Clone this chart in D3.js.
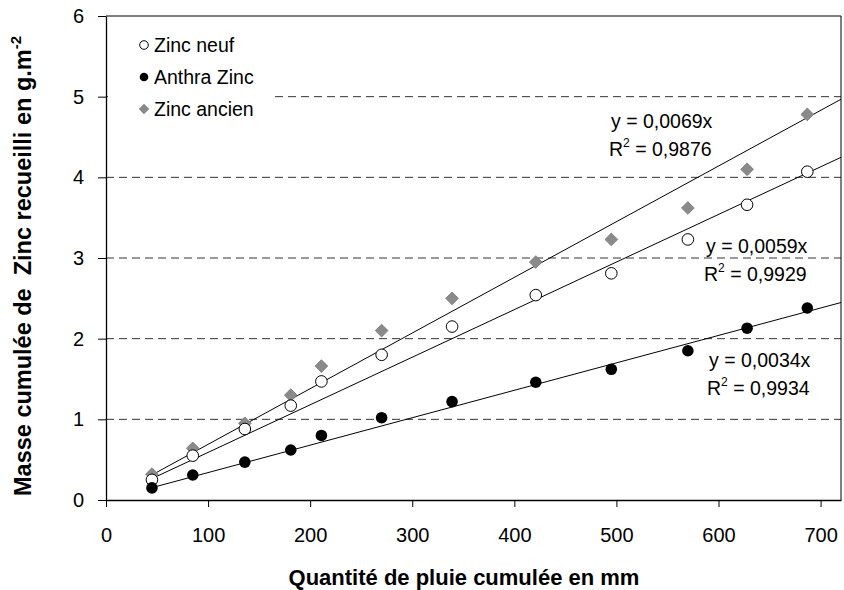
<!DOCTYPE html>
<html><head><meta charset="utf-8">
<script src="https://cdn.jsdelivr.net/npm/d3@7"></script>
<style>
html,body{margin:0;padding:0;background:#fff;}
svg{display:block;}
text{font-family:"Liberation Sans",Arial,sans-serif;}
</style></head>
<body>
<svg id="chart" width="844" height="590"></svg>
<script>
// ---- data ----
const rain = [45, 85, 136, 181, 211, 270, 339, 421, 495, 570, 628, 687];
const zincNeuf = [0.25, 0.55, 0.88, 1.17, 1.47, 1.80, 2.15, 2.54, 2.81, 3.23, 3.66, 4.07];
const anthraZinc = [0.15, 0.31, 0.47, 0.62, 0.80, 1.02, 1.22, 1.46, 1.62, 1.85, 2.13, 2.38];
const zincAncien = [0.32, 0.64, 0.95, 1.30, 1.66, 2.10, 2.50, 2.95, 3.23, 3.62, 4.10, 4.78];
const seriesNames = ["Zinc neuf", "Anthra Zinc", "Zinc ancien"];
const slopes = [0.0059, 0.0034, 0.0069];
const r2s = ["0,9929", "0,9934", "0,9876"];
const slopeLabels = ["0,0059", "0,0034", "0,0069"];
const xTicks = [0, 100, 200, 300, 400, 500, 600, 700];
const yTicks = [0, 1, 2, 3, 4, 5, 6];

const svg = d3.select("#chart");
const L = 106, R = 841, T = 16, B = 500;
const x = d3.scaleLinear().domain([0, 720]).range([L, R]);
const y = d3.scaleLinear().domain([0, 6]).range([B, T]);

// gridlines (dashed) for 1..5
svg.append("g").selectAll("line").data(yTicks.filter(v => v > 0 && v < 6)).join("line")
  .attr("x1", L).attr("x2", R).attr("y1", d => y(d)).attr("y2", d => y(d))
  .attr("stroke", "#333").attr("stroke-width", 1).attr("stroke-dasharray", "8,5");

// frame top/right
svg.append("line").attr("x1", L).attr("x2", R).attr("y1", T).attr("y2", T).attr("stroke", "#000");
svg.append("line").attr("x1", R).attr("x2", R).attr("y1", T).attr("y2", B).attr("stroke", "#000");

// axes
const fmt = d3.format("d");
const xAxis = d3.axisBottom(x).tickValues(xTicks).tickFormat(fmt).tickSize(7).tickPadding(21).tickSizeOuter(0);
const gx = svg.append("g").attr("transform", `translate(0,${B})`).call(xAxis);
const yAxis = d3.axisLeft(y).tickValues(yTicks).tickFormat(fmt).tickSize(8).tickPadding(14).tickSizeOuter(0);
const gy = svg.append("g").attr("transform", `translate(${L},0)`).call(yAxis);
[gx, gy].forEach(g => {
  g.select(".domain").attr("stroke", "#000").attr("stroke-width", 1.3);
  g.selectAll(".tick line").attr("stroke", "#000");
  g.selectAll(".tick text").attr("font-family", "Liberation Sans, Arial, sans-serif")
    .attr("font-size", 20).attr("fill", "#000");
});

// legend background (covers gridline)
svg.append("rect").attr("x", L + 2).attr("y", 26).attr("width", 165).attr("height", 95).attr("fill", "#fff");

// trendlines
const allY = [zincNeuf, anthraZinc, zincAncien];
const xMin = d3.min(rain), xMax = 720;
const line = d3.line().x(d => x(d[0])).y(d => y(d[1]));
slopes.forEach(s => {
  svg.append("path").attr("d", line([[xMin, s * xMin], [xMax, s * xMax]]))
    .attr("fill", "none").attr("stroke", "#000").attr("stroke-width", 1);
});

// markers
function drawMarker(g, type, cx, cy, size) {
  if (type === 0) {
    g.append("circle").attr("cx", cx).attr("cy", cy).attr("r", size)
      .attr("fill", "#fff").attr("stroke", "#000").attr("stroke-width", 1);
  } else if (type === 1) {
    g.append("circle").attr("cx", cx).attr("cy", cy).attr("r", size).attr("fill", "#000");
  } else {
    const s = size * 1.1;
    g.append("path").attr("d", `M${cx},${cy - s}L${cx + s},${cy}L${cx},${cy + s}L${cx - s},${cy}Z`)
      .attr("fill", "#8a8a8a").attr("stroke", "#777").attr("stroke-width", 0.8);
  }
}
const gm = svg.append("g");
[2, 0, 1].forEach(si => {
  rain.forEach((r, i) => drawMarker(gm, si, x(r), y(allY[si][i]), 5.8));
});

// legend
const legendY = [45, 77, 109];
seriesNames.forEach((n, i) => {
  drawMarker(svg, i, 144, legendY[i], 4.3);
  svg.append("text").attr("x", 154).attr("y", legendY[i] + 7)
    .attr("font-size", 19.5).attr("fill", "#000").text(n);
});

// equations
const eqPos = [[706, 253], [709, 367], [611, 128]];
slopes.forEach((s, i) => {
  const [ex, ey] = eqPos[i];
  svg.append("text").attr("x", ex).attr("y", ey).attr("font-size", 19.5).attr("fill", "#000")
    .text(`y = ${slopeLabels[i]}x`);
  const t = svg.append("text").attr("x", ex - 2).attr("y", ey + 28).attr("font-size", 19.5).attr("fill", "#000");
  t.append("tspan").text("R");
  t.append("tspan").attr("dy", -9).attr("font-size", 12).text("2");
  t.append("tspan").attr("dy", 9).text(` = ${r2s[i]}`);
});

// axis titles
svg.append("text").attr("x", 464).attr("y", 585).attr("text-anchor", "middle")
  .attr("font-size", 22).attr("font-weight", "bold").attr("fill", "#000")
  .text("Quantité de pluie cumulée en mm");
const yt = svg.append("text").attr("transform", "translate(31,266) rotate(-90)")
  .attr("text-anchor", "middle").attr("font-size", 23.5).attr("font-weight", "bold").attr("fill", "#000")
  .style("white-space", "pre");
yt.append("tspan").text("Masse cumulée de  Zinc recueilli en g.m");
yt.append("tspan").attr("dy", -10).attr("font-size", 15).text("-2");
</script>
</body></html>
